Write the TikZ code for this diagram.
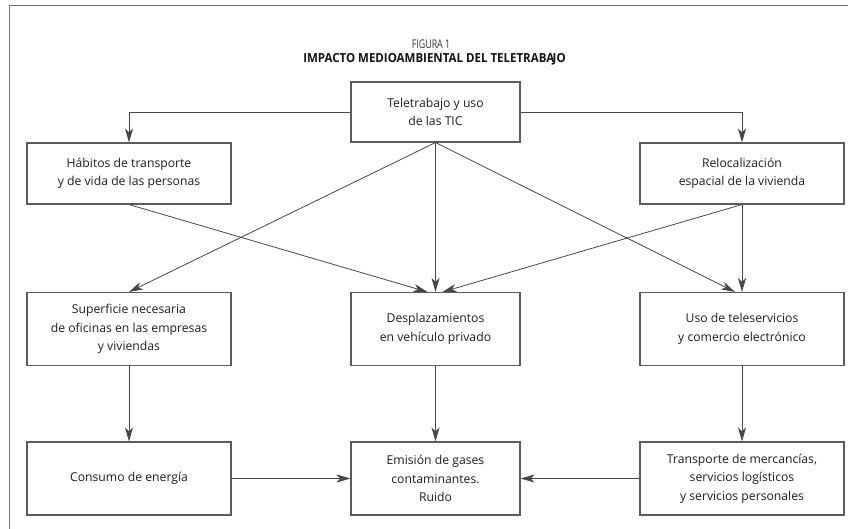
\documentclass[tikz,border=0pt]{standalone}
\usepackage{fontspec}
\setmainfont{Open Sans}
\usetikzlibrary{arrows.meta}
\definecolor{linegray}{gray}{0.28}
\definecolor{boxgray}{gray}{0.36}
\definecolor{framegray}{gray}{0.45}
\tikzset{
  box/.style={draw=boxgray, line width=1.1pt, fill=white, align=center,
    font=\fontsize{12.2}{18.5}\selectfont, text=black!88, inner sep=0pt},
  wbox/.style={box, minimum width=204pt},
  nbox/.style={box, minimum width=169pt},
  arr/.style={draw=linegray, line width=0.8pt,
    -{Stealth[length=14pt,width=8pt,inset=4pt]}},
}
\begin{document}
\begin{tikzpicture}[x=1pt,y=-1pt]
\useasboundingbox (0,0) rectangle (850,529);
\fill[white] (0,0) rectangle (850,529);
\draw[framegray, line width=1pt] (9,529) -- (9,6) -- (848,6);

\node (fig) at (431,44) {\fontsize{12}{13}\selectfont\color{black!80}\scalebox{0.74}[1]{FIGURA 1}};
\node (title) at (434.5,59) {\fontsize{12.5}{14}\selectfont\bfseries\color{black!92}\scalebox{0.92}[1]{IMPACTO MEDIOAMBIENTAL DEL TELETRABA\kern-1.6pt JO}};

\node[nbox, minimum height=60pt] (tic) at (435.5,112) {Teletrabajo y uso\\de las TIC};
\node[wbox, minimum height=61pt] (hab) at (129,173.5) {Hábitos de transporte\\y de vida de las personas};
\node[wbox, minimum height=61pt] (rel) at (742,173.5) {Relocalización\\espacial de la vivienda};

\node[wbox, minimum height=73pt] (sup) at (129,329) {Superficie necesaria\\de oficinas en las empresas\\y viviendas};
\node[nbox, minimum height=73pt] (des) at (435.5,329) {Desplazamientos\\en vehículo privado};
\node[wbox, minimum height=73pt] (uso) at (742,329) {Uso de teleservicios\\y comercio electrónico};

\node[wbox, minimum height=73pt] (con) at (129,478.5) {Consumo de energía};
\node[nbox, minimum height=73pt] (emi) at (435.5,478.5) {Emisión de gases\\contaminantes.\\Ruido};
\node[wbox, minimum height=73pt] (tra) at (742,478.5) {Transporte de mercancías,\\servicios logísticos\\y servicios personales};

\draw[arr] (tic.west) -| (hab.north);
\draw[arr] (tic.east) -| (rel.north);
\draw[arr] (tic.south) -- (sup.north);
\draw[arr] (tic.south) -- (des.north);
\draw[arr] (tic.south) -- ([xshift=-7pt]uso.north);
\draw[arr] (hab.south) -- ([xshift=-8pt]des.north);
\draw[arr] (rel.south) -- ([xshift=7pt]des.north);
\draw[arr] (rel.south) -- (uso.north);
\draw[arr] (sup.south) -- (con.north);
\draw[arr] (des.south) -- (emi.north);
\draw[arr] (uso.south) -- (tra.north);
\draw[arr] (con.east) -- (emi.west);
\draw[arr] (tra.west) -- (emi.east);
\end{tikzpicture}
\end{document}
